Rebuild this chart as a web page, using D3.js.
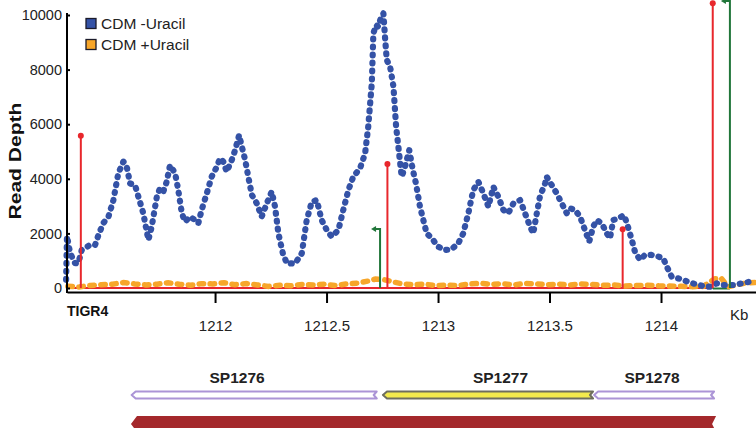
<!DOCTYPE html>
<html><head><meta charset="utf-8">
<script src="https://cdn.jsdelivr.net/npm/d3@7"></script>
<style>body{margin:0;background:#fff}svg{display:block;font-family:"Liberation Sans",Arial,sans-serif}</style>
</head><body><svg id="c" width="756" height="428"></svg>
<script>
// ---- data ----
const blueKb = [1211.332,1211.336,1211.350,1211.372,1211.387,1211.402,1211.439,1211.462,1211.477,1211.499,1211.522,1211.544,1211.566,1211.589,1211.604,1211.619,1211.641,1211.656,1211.678,1211.701,1211.716,1211.739,1211.753,1211.768,1211.783,1211.798,1211.821,1211.835,1211.851,1211.865,1211.888,1211.910,1211.925,1211.940,1211.963,1211.985,1212.008,1212.022,1212.037,1212.052,1212.075,1212.090,1212.108,1212.120,1212.135,1212.149,1212.165,1212.187,1212.209,1212.232,1212.254,1212.269,1212.284,1212.304,1212.322,1212.336,1212.359,1212.389,1212.411,1212.434,1212.456,1212.478,1212.501,1212.523,1212.553,1212.575,1212.598,1212.620,1212.650,1212.673,1212.687,1212.703,1212.710,1212.722,1212.732,1212.743,1212.755,1212.762,1212.770,1212.785,1212.800,1212.812,1212.822,1212.837,1212.852,1212.871,1212.887,1212.901,1212.919,1212.934,1212.949,1212.972,1213.001,1213.031,1213.061,1213.091,1213.113,1213.136,1213.158,1213.181,1213.203,1213.226,1213.248,1213.270,1213.293,1213.315,1213.338,1213.368,1213.390,1213.413,1213.427,1213.443,1213.457,1213.480,1213.487,1213.510,1213.532,1213.555,1213.577,1213.592,1213.614,1213.637,1213.659,1213.678,1213.696,1213.712,1213.734,1213.757,1213.771,1213.786,1213.809,1213.834,1213.847,1213.869,1213.883,1213.906,1213.928,1213.958,1213.988,1214.010,1214.026,1214.048,1214.078,1214.108,1214.130,1214.160,1214.197,1214.220,1214.250,1214.279,1214.324,1214.362,1214.399,1214.422];
const blueDepth = [300,1900,1280,910,910,1390,1575,1575,1940,2380,2610,3220,4200,4630,4440,3830,3770,3350,2740,1760,2250,3350,3650,3530,3890,4500,4200,3590,2740,2430,2610,2490,2370,2860,3470,4080,4440,4750,4630,4260,4690,5050,5600,5180,4690,4080,3410,3100,2610,3100,3530,2980,2000,1270,900,900,900,1270,2490,3160,3220,2490,2120,1880,2120,2860,3590,4080,4380,4930,5910,7500,9330,9630,9570,9880,10060,9210,8350,8110,7380,5910,5180,4080,4440,5050,4320,3830,2980,2490,2000,1820,1510,1390,1420,1640,2000,2740,3590,3890,3470,2980,3710,3350,2860,2740,3100,3220,2740,2250,2000,2740,3350,3830,4080,3770,3470,3100,2740,2920,2860,2610,2120,1700,2250,2490,2370,2000,1820,2490,2550,2670,2370,1760,1330,1030,1210,1210,1150,1090,780,410,350,270,190,140,50,50,170,110,110,170,230,230];
const orangeKb = [1211.34,1211.39,1211.44,1211.49,1211.54,1211.59,1211.64,1211.69,1211.74,1211.79,1211.84,1211.89,1211.94,1211.99,1212.04,1212.09,1212.14,1212.19,1212.24,1212.29,1212.34,1212.39,1212.44,1212.49,1212.54,1212.59,1212.64,1212.69,1212.72,1212.76,1212.80,1212.84,1212.89,1212.94,1212.99,1213.04,1213.09,1213.14,1213.19,1213.24,1213.29,1213.34,1213.39,1213.44,1213.49,1213.54,1213.59,1213.64,1213.69,1213.74,1213.79,1213.84,1213.89,1213.94,1213.99,1214.04,1214.09,1214.14,1214.19,1214.24,1214.27,1214.30,1214.34,1214.38,1214.42];
const orangeDepth = [60,40,90,120,140,200,150,110,140,190,140,100,160,150,190,120,160,110,60,100,80,130,110,140,90,150,180,260,330,300,220,150,120,140,90,110,90,150,170,130,160,110,170,150,120,140,110,150,130,100,110,70,90,100,80,70,60,50,60,330,360,40,120,180,200];
const seriesNames = ["CDM -Uracil","CDM +Uracil"];
const xTicks = [1212,1212.5,1213,1213.5,1214];
const yTicks = [0,2000,4000,6000,8000,10000];
const redStemKb = [1211.398,1212.773,1213.828,1214.232];
const redStemDepth = [5580,4540,2150,10430];
const greenArrowKb = [1212.740,1214.309];
const greenArrowDepth = [2160,10510];
const geneNames = ["SP1276","SP1277","SP1278"];
const geneStart = [1211.626,1212.753,1213.700];
const geneEnd = [1212.725,1213.695,1214.238];
const geneLabelKb = [1212.099,1213.280,1213.960];
const operonStart = 1211.623, operonEnd = 1214.247;

// ---- scales ----
const svg = d3.select("#c");
const x = d3.scaleLinear().domain([1211.336,1214.426]).range([67,756]);
const y = d3.scaleLinear().domain([0,10000]).range([288,15]);
const BLUE="#3452a6", ORANGE="#f7a62a", RED="#e8272c", GREEN="#21763a";

// baseline (red / green)
svg.append("line").attr("x1",x(1211.336)).attr("x2",x(redStemKb[3])).attr("y1",y(0)).attr("y2",y(0)).attr("stroke",RED).attr("stroke-width",2);
svg.append("line").attr("x1",x(redStemKb[3])).attr("x2",x(greenArrowKb[1])).attr("y1",y(0)+0.5).attr("y2",y(0)+0.5).attr("stroke",GREEN).attr("stroke-width",2);
svg.append("line").attr("x1",x(1211.336)).attr("x2",x(1211.37)).attr("y1",y(0)-1).attr("y2",y(0)-1).attr("stroke",GREEN).attr("stroke-width",2);

const line = d3.line().x(d=>x(d[0])).y(d=>y(d[1]));
svg.append("path").datum(orangeKb.map((k,i)=>[k,orangeDepth[i]]))
  .attr("d",line).attr("fill","none").attr("stroke",ORANGE).attr("stroke-width",5.5)
  .attr("stroke-linecap","round").attr("stroke-dasharray","4.5,6.5");
svg.append("path").datum(blueKb.map((k,i)=>[k,blueDepth[i]]))
  .attr("d",line).attr("fill","none").attr("stroke",BLUE).attr("stroke-width",6.2)
  .attr("stroke-linecap","round").attr("stroke-linejoin","round").attr("stroke-dasharray","1,7");

// markers
redStemKb.forEach((k,i)=>{
  svg.append("line").attr("x1",x(k)).attr("x2",x(k)).attr("y1",y(0)).attr("y2",y(redStemDepth[i])).attr("stroke",RED).attr("stroke-width",2);
  svg.append("circle").attr("cx",x(k)).attr("cy",y(redStemDepth[i])).attr("r",3).attr("fill",RED);
});
greenArrowKb.forEach((k,i)=>{
  const gx=x(k), gy=y(greenArrowDepth[i]);
  svg.append("path").attr("d",`M${gx},${y(0)}V${gy}H${gx-5}`).attr("fill","none").attr("stroke",GREEN).attr("stroke-width",2);
  svg.append("path").attr("d",`M${gx-9},${gy}L${gx-4},${gy-3}L${gx-4},${gy+3}Z`).attr("fill",GREEN);
});

// axes
const gx = svg.append("g").attr("transform","translate(0,292)")
  .call(d3.axisBottom(x).tickValues(xTicks).tickFormat(d=>String(d)).tickSize(11).tickSizeOuter(0).tickPadding(17));
gx.select(".domain").attr("stroke-width",2);
gx.selectAll(".tick line").attr("stroke-width",2);
gx.selectAll("text").attr("font-size",15).attr("fill","#222").attr("font-family","Liberation Sans, Arial, sans-serif");
svg.append("line").attr("x1",67).attr("x2",67).attr("y1",13).attr("y2",293).attr("stroke","#000").attr("stroke-width",2);
const gy = svg.append("g").attr("transform","translate(67,0)")
  .call(d3.axisLeft(y).tickValues(yTicks).tickFormat(d=>String(d)).tickSize(-3).tickPadding(5));
gy.select(".domain").remove();
gy.selectAll(".tick line").attr("stroke-width",2);
gy.selectAll("text").attr("font-size",14.5).attr("fill","#222").attr("font-family","Liberation Sans, Arial, sans-serif");

svg.append("text").attr("x",730).attr("y",320).attr("font-size",15).attr("fill","#222").text("Kb");
svg.append("text").attr("x",67).attr("y",316).attr("font-size",14).attr("font-weight","bold").attr("fill","#111").text("TIGR4");
svg.append("text").attr("transform","translate(21,161) rotate(-90)").attr("text-anchor","middle")
  .attr("font-size",17).attr("font-weight","bold").attr("fill","#111")
  .attr("textLength",117).attr("lengthAdjust","spacingAndGlyphs").text("Read Depth");

// legend
const legColors=[BLUE,ORANGE];
seriesNames.forEach((n,i)=>{
  svg.append("rect").attr("x",86).attr("y",18.5+i*21).attr("width",10).attr("height",10)
    .attr("fill",legColors[i]).attr("stroke","#1a1a2a").attr("stroke-width",1.3);
  svg.append("text").attr("x",101).attr("y",29+i*21).attr("font-size",15.5).attr("fill","#222").text(n);
});

// genes
function arrowPath(x0,x1,cy,h,tip,notch){
  return `M${x0},${cy}L${x0+tip},${cy-h/2}L${x1},${cy-h/2}L${x1-notch},${cy}L${x1},${cy+h/2}L${x0+tip},${cy+h/2}Z`;
}
const geneFill=["#fff","#f3ea4c","#fff"], geneStroke=["#ab94d6","#6e6e5e","#ab94d6"];
geneNames.forEach((n,i)=>{
  svg.append("path").attr("d",arrowPath(x(geneStart[i]),x(geneEnd[i]),395,7,4,3))
    .attr("fill",geneFill[i]).attr("stroke",geneStroke[i]).attr("stroke-width",2).attr("stroke-linejoin","round");
  svg.append("text").attr("x",x(geneLabelKb[i])).attr("y",383).attr("text-anchor","middle")
    .attr("font-size",15.5).attr("font-weight","bold").attr("fill","#222").text(n);
});
svg.append("path").attr("d",arrowPath(x(operonStart),x(operonEnd),424,16,6,4)).attr("fill","#a4282b");
</script></body></html>
